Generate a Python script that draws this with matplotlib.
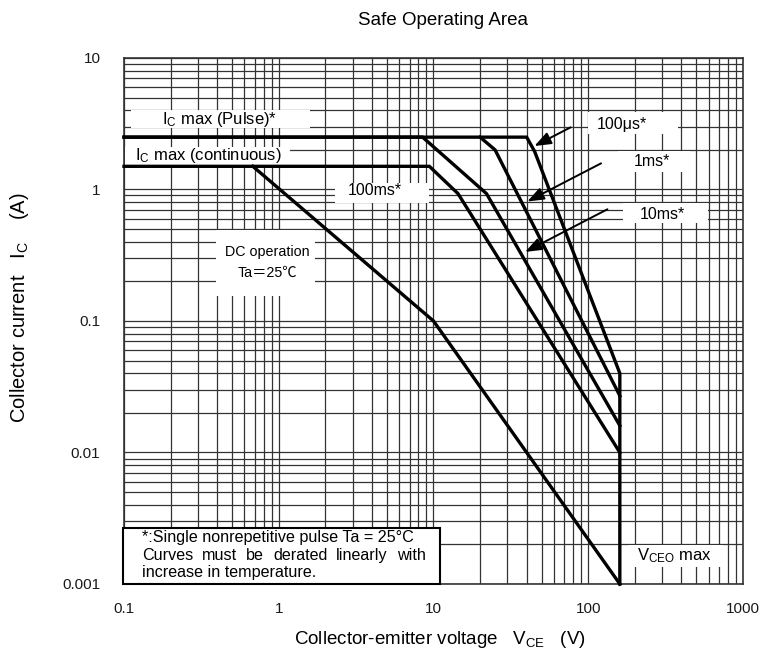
import matplotlib
matplotlib.use("Agg")
import matplotlib.pyplot as plt
from matplotlib.patches import Rectangle

plt.rcParams['font.family'] = ['Liberation Sans', 'DejaVu Sans']
plt.rcParams['mathtext.fontset'] = 'custom'
plt.rcParams['mathtext.rm'] = 'Liberation Sans'
plt.rcParams['mathtext.it'] = 'Liberation Sans:italic'

# SOA boundary curves (V, A)
dc_v = [0.68, 10, 160]
dc_i = [1.5, 0.1, 0.001]
ms100_v = [0.1, 9.4, 14.4, 160]
ms100_i = [1.5, 1.5, 0.93, 0.01]
ms10_v = [0.1, 8.5, 22, 160]
ms10_i = [2.5, 2.5, 0.93, 0.016]
ms1_v = [20, 25, 160]
ms1_i = [2.5, 2.0, 0.027]
us100_v = [0.1, 40, 45, 160, 160]
us100_i = [2.5, 2.5, 1.95, 0.04, 0.001]

x_ticks = [0.1, 1, 10, 100, 1000]
x_labels = ['0.1', '1', '10', '100', '1000']
y_ticks = [0.001, 0.01, 0.1, 1, 10]
y_labels = ['0.001', '0.01', '0.1', '1', '10']

fig = plt.figure(figsize=(7.64, 6.55), dpi=100)
ax = fig.add_axes([0.1623, 0.1084, 0.8102, 0.8031])
ax.set_xscale('log')
ax.set_yscale('log')
ax.set_xlim(0.1, 1000)
ax.set_ylim(0.001, 10)

ax.grid(which='both', color='#333333', lw=0.9, zorder=0)
ax.set_axisbelow(True)
ax.set_xticks(x_ticks)
ax.set_xticklabels(x_labels)
ax.set_yticks(y_ticks)
ax.set_yticklabels(y_labels)
ax.tick_params(which='both', length=0, labelsize=11, colors='#1a1a1a')
ax.tick_params(axis='x', pad=13)
ax.tick_params(axis='y', pad=17)
for s in ax.spines.values():
    s.set_color('#333333')
    s.set_linewidth(1.2)

# white label boxes (axes fraction: x0, y0, w, h) that break the grid
boxes = [
    (0.011, 0.866, 0.289, 0.035),
    (0.002, 0.795, 0.266, 0.036),
    (0.750, 0.856, 0.145, 0.041),
    (0.798, 0.783, 0.116, 0.040),
    (0.806, 0.686, 0.137, 0.038),
    (0.341, 0.724, 0.152, 0.038),
    (0.149, 0.548, 0.160, 0.125),
    (0.814, 0.032, 0.154, 0.042),
]
for (bx, by, bw, bh) in boxes:
    ax.add_patch(Rectangle((bx, by), bw, bh, transform=ax.transAxes,
                           fc='white', ec='none', zorder=1.5))

lw = 2.4
for v, i in [(dc_v, dc_i), (ms100_v, ms100_i), (ms10_v, ms10_i),
             (ms1_v, ms1_i), (us100_v, us100_i)]:
    ax.plot(v, i, color='black', lw=lw, solid_joinstyle='miter', zorder=3,
            clip_on=False)

fs = 12
ax.text(0.155, 0.883, r'I$_\mathrm{C}$ max (Pulse)*', transform=ax.transAxes,
        ha='center', va='center', fontsize=fs, zorder=4)
ax.text(0.136, 0.814, r'I$_\mathrm{C}$ max (continuous)', transform=ax.transAxes,
        ha='center', va='center', fontsize=fs, zorder=4)
ax.text(0.405, 0.748, '100ms*', transform=ax.transAxes,
        ha='center', va='center', fontsize=11.5, zorder=4)
ax.text(0.804, 0.873, '100μs*', transform=ax.transAxes,
        ha='center', va='center', fontsize=11.5, zorder=4)
ax.text(0.853, 0.803, '1ms*', transform=ax.transAxes,
        ha='center', va='center', fontsize=11.5, zorder=4)
ax.text(0.869, 0.702, '10ms*', transform=ax.transAxes,
        ha='center', va='center', fontsize=11.5, zorder=4)
ax.text(0.231, 0.611, 'DC operation\nTa＝25℃', transform=ax.transAxes,
        ha='center', va='center', fontsize=10.3, linespacing=1.6, zorder=4,
        family=['Liberation Sans', 'Noto Sans CJK JP', 'DejaVu Sans'])
ax.text(0.829, 0.053, r'V$_\mathrm{CEO}$ max', transform=ax.transAxes,
        ha='left', va='center', fontsize=12, zorder=4)

arrow = dict(arrowstyle='-|>,head_length=1.0,head_width=0.38', color='black',
             lw=1.4, shrinkA=0, shrinkB=0)
ax.annotate('', xy=(44.9, 2.14), xytext=(77, 2.97), arrowprops=arrow, zorder=5)
ax.annotate('', xy=(40.4, 0.81), xytext=(121, 1.58), arrowprops=arrow, zorder=5)
ax.annotate('', xy=(39.1, 0.335), xytext=(133, 0.707), arrowprops=arrow, zorder=5)

# note box, middle line justified to the width of the first line
ax.add_patch(Rectangle((-0.002, 0.0), 0.512, 0.106, transform=ax.transAxes,
                       fc='white', ec='black', lw=1.5, zorder=4, clip_on=False))
note = ['*:Single nonrepetitive pulse Ta = 25°C',
        'Curves must be derated linearly with',
        'increase in temperature.']
nx = 0.029
nfs = 11.6
renderer = fig.canvas.get_renderer()
first = ax.text(nx, 0.089, note[0], transform=ax.transAxes, ha='left',
                va='center', fontsize=nfs, zorder=5)
target = first.get_window_extent(renderer).width + 12
words = note[1].split()
wts = [ax.text(0, 0.055, w, transform=ax.transAxes, ha='left', va='center',
               fontsize=nfs, zorder=5) for w in words]
widths = [t.get_window_extent(renderer).width for t in wts]
gap = (target - sum(widths)) / (len(words) - 1)
xpix = nx * ax.bbox.width
for t, w in zip(wts, widths):
    t.set_x(xpix / ax.bbox.width)
    xpix += w + gap
ax.text(nx, 0.021, note[2], transform=ax.transAxes, ha='left', va='center',
        fontsize=nfs, zorder=5)

fig.text(0.58, 0.969, 'Safe Operating Area', ha='center', va='center',
         fontsize=13.5)
fig.text(0.576, 0.023, r'Collector-emitter voltage   V$_\mathrm{CE}$   (V)',
         ha='center', va='center', fontsize=13.5)
fig.text(0.026, 0.530, r'Collector current   I$_\mathrm{C}$    (A)',
         ha='center', va='center', rotation=90, fontsize=14.5)

fig.savefig('out.png', dpi=100)
